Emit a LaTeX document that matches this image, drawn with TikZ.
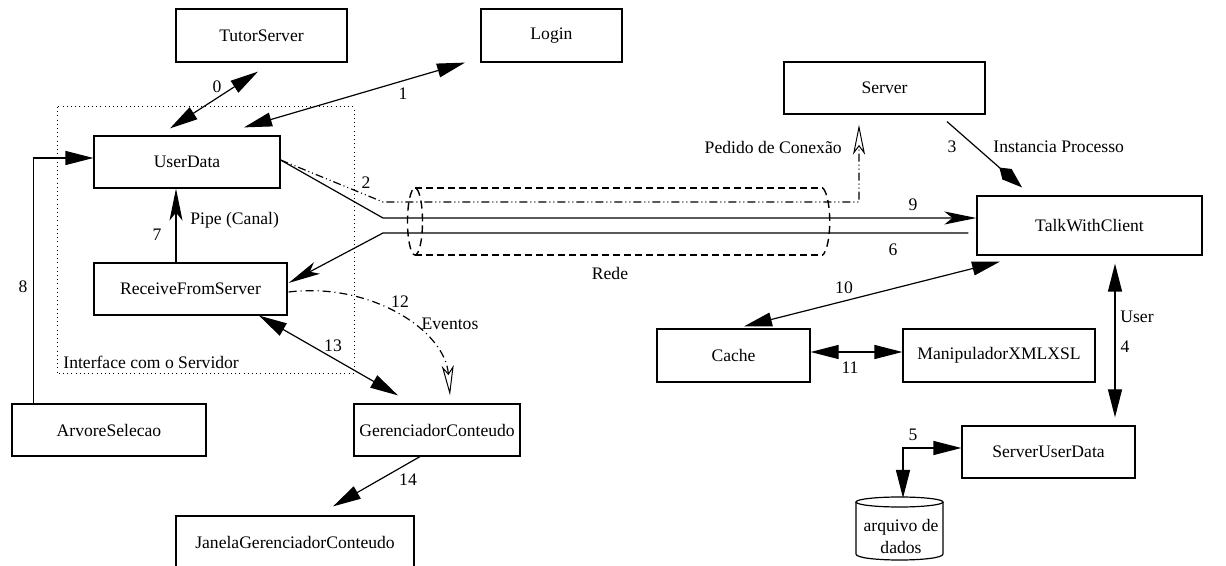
\documentclass[tikz,border=0pt]{standalone}
\usepackage{fontspec}
\setmainfont{Liberation Serif}
\newfontfamily\diafont{Liberation Serif}
\usetikzlibrary{arrows.meta,calc}
\tikzset{
  box/.style={draw, line width=0.6pt, inner sep=0pt, font=\diafont\fontsize{8.8}{10.5}\selectfont},
  lbl/.style={inner sep=0pt, font=\diafont\fontsize{8.8}{10.5}\selectfont},
  conn/.style={line width=0.6pt},
  ddot/.style={line width=0.6pt, dash pattern=on 4pt off 1.5pt on 0.5pt off 1.5pt on 0.5pt off 1.5pt},
  ddash/.style={line width=0.6pt, dash pattern=on 4pt off 2pt on 0.5pt off 2pt},
  tube/.style={line width=1.1pt, dash pattern=on 3.5pt off 2pt},
  tubeend/.style={line width=0.7pt, dash pattern=on 4pt off 2.5pt},
  frame/.style={line width=0.5pt, dash pattern=on 0.5pt off 1.6pt},
  tri/.tip={Triangle[length=14pt,width=7pt]},
  stl/.tip={Stealth[length=16pt,width=6.5pt,inset=4pt]},
  ost/.tip={Stealth[open,length=15pt,width=6pt,inset=4pt,line width=0.5pt]},
  kit/.tip={Kite[length=15pt,width=7pt,inset=5pt]},
}
\begin{document}
\begin{tikzpicture}[x=0.5pt,y=-0.5pt]
\useasboundingbox (0,0) rectangle (1226,566);

% interface frame
\draw[frame] (57,107) rectangle (354,374);
\node[lbl, anchor=west] (lif) at (63,362) {Interface com o Servidor};

% boxes
\node[box, minimum width=85.5pt, minimum height=26.5pt] (ts) at (261.5,35.5) {TutorServer};
\node[box, minimum width=70.5pt, minimum height=26.5pt] (login) at (551.5,35.5) {Login};
\node[box, minimum width=100.5pt, minimum height=26pt] (server) at (884.5,88) {Server};
\node[box, minimum width=93pt, minimum height=26pt] (ud) at (187,162) {UserData};
\node[box, minimum width=96.5pt, minimum height=26pt] (rfs) at (190.5,289) {ReceiveFromServer};
\node[box, minimum width=97pt, minimum height=26pt] (arv) at (109,430) {ArvoreSelecao};
\node[box, minimum width=83pt, minimum height=26pt] (ger) at (437,430) {GerenciadorConteudo};
\node[box, minimum width=119pt, minimum height=26pt] (jan) at (295,542) {JanelaGerenciadorConteudo};
\node[box, minimum width=112.5pt, minimum height=29.5pt] (twc) at (1089.5,225.5) {TalkWithClient};
\node[box, minimum width=76.5pt, minimum height=26.5pt] (cache) at (733.5,355.5) {Cache};
\node[box, minimum width=96pt, minimum height=26.5pt] (manip) at (999,355.5) {ManipuladorXMLXSL};
\node[box, minimum width=86.5pt, minimum height=26pt] (sud) at (1048.5,452) {ServerUserData};

% database cylinder
\draw[line width=0.6pt] (899.5,502) ellipse [x radius=21.75pt, y radius=2.5pt];
\draw[line width=0.6pt] (856,502) -- (856,554) .. controls (856,562) and (943,562) .. (943,554) -- (943,502);
\coordinate (dbtop) at (899.5,497);
\node[lbl, align=center, font=\diafont\fontsize{8.8}{11}\selectfont] (db) at (901,536) {arquivo de\\dados};

% network tube
\draw[tube] (415,188) -- (823,188);
\draw[tube] (415,255) -- (823,255);
\draw[tubeend] (415,221.5) ellipse [x radius=3.75pt, y radius=16.75pt];
\draw[tubeend] (823,188) .. controls (832,199) and (832,244) .. (823,255);
\node[lbl] (lrede) at (610,273) {Rede};

% connectors
\draw[conn, tri-tri] ($(ud.north)+(-17,-7)$) -- ($(ts.south)+(-3.5,9)$);
\node[lbl] (l0) at (217,87) {0};
\draw[conn, tri-tri] ($(ud.north)+(57,-8)$) -- ($(login.south)+(-86.5,0)$);
\node[lbl] (l1) at (403,94) {1};

\draw[ddot, -ost] ($(ud.east)+(0,-2)$) -- (383,202) -- (859,202) -- ($(server.south)+(-25.5,10)$);
\node[lbl] (l2) at (366,183) {2};
\node[lbl, anchor=east] (lped) at (842,147) {Pedido de Conexão};

\draw[conn, -kit] ($(server.south)+(62.5,7)$) -- ($(twc.north)+(-67.5,-8)$);
\node[lbl] (l3) at (952,147) {3};
\node[lbl, anchor=west] (linst) at (993,147) {Instancia Processo};

\draw[conn, -stl] ($(ud.east)+(0,-2)$) -- (383,218) -- ($(twc.west)+(0,-7.5)$);
\node[lbl] (l9) at (913,205) {9};
\draw[conn, -stl] ($(twc.west)+(-8,7.5)$) -- (383,233) -- ($(rfs.east)+(1,-6)$);
\node[lbl] (l6) at (893,250) {6};

\draw[conn, -stl] ($(rfs.north)+(-14.5,0)$) -- ($(ud.south)+(-11,0)$);
\node[lbl] (l7) at (157,235) {7};
\node[lbl, anchor=west] (lpipe) at (190,220) {Pipe (Canal)};

\draw[conn, -tri] ($(arv.north west)+(22,0)$) |- ($(ud.west)+(0,-4)$);
\node[lbl] (l8) at (23,287) {8};

\draw[ddash, -ost] ($(rfs.east)+(1,3)$) .. controls (370,282) and (445,330) .. ($(ger.north)+(13,-8)$);
\node[lbl] (l12) at (400,302) {12};
\node[lbl] (lev) at (450,324) {Eventos};

\draw[conn, tri-tri] ($(rfs.south)+(68.5,0)$) -- ($(ger.north)+(-39,-8)$);
\node[lbl] (l13) at (333,346) {13};
\draw[conn, -tri] ($(ger.south)+(-17,0)$) -- ($(jan.north)+(38,-9)$);
\node[lbl] (l14) at (408,480) {14};

\draw[conn, tri-tri] ($(twc.south)+(-89.5,6)$) -- ($(cache.north)+(10.5,-2)$);
\node[lbl] (l10) at (844,288) {10};
\draw[conn, tri-tri] ($(cache.east)+(0,-3.5)$) -- ($(manip.west)+(0,-3.5)$);
\node[lbl] (l11) at (850,368) {11};

\draw[conn, tri-tri] ($(twc.south)+(25.5,8)$) -- ($(sud.north)+(66.5,-8)$);
\node[lbl] (luser) at (1137,317) {User};
\node[lbl] (l4) at (1125,347) {4};

\draw[conn, tri-tri] ($(sud.west)+(0,-4)$) -| ($(dbtop)+(3.5,1)$);
\node[lbl] (l5) at (913,435) {5};
\end{tikzpicture}
\end{document}
